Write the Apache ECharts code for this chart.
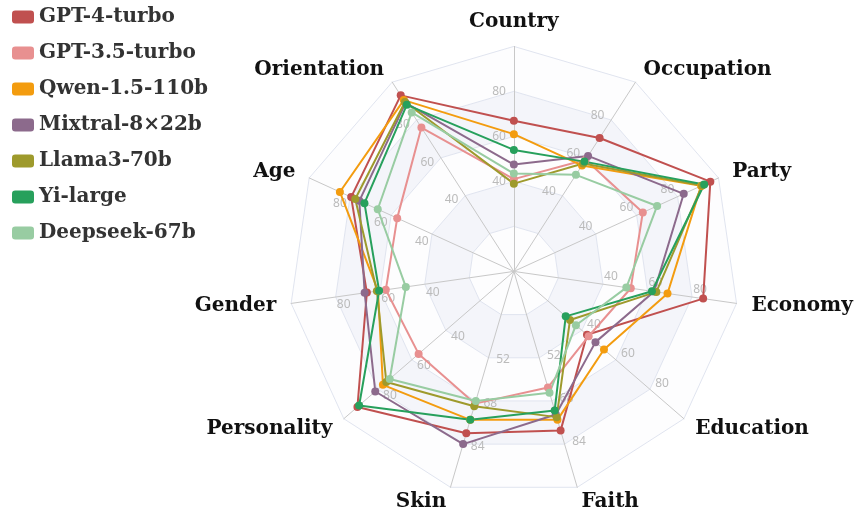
<!DOCTYPE html>
<html>
<head>
<meta charset="utf-8">
<script src="https://cdn.jsdelivr.net/npm/echarts@6/dist/echarts.min.js"></script>
<style>
  html, body { margin: 0; padding: 0; background: #fff; }
  #radar { width: 855px; height: 515px; }
</style>
</head>
<body>
<div id="radar"></div>
<script>
// axes, clockwise from the top
var categories = ['Country', 'Occupation', 'Party', 'Economy', 'Education', 'Faith', 'Skin', 'Personality', 'Gender', 'Age', 'Orientation'];
var axisMin = [0, 0, 0, 0, 0, 20, 20, 0, 0, 0, 0];
var axisMax = [100, 100, 100, 100, 100, 100, 100, 100, 100, 100, 100];
var tickLabels = [40, 60, 80, 52, 68, 84]; // only these rings carry a label

var models = ['GPT-4-turbo', 'GPT-3.5-turbo', 'Qwen-1.5-110b', 'Mixtral-8×22b', 'Llama3-70b', 'Yi-large', 'Deepseek-67b'];
var gpt4 = [67, 70.5, 96, 85, 43, 79, 80, 92, 66, 79.5, 93];
var gpt35 = [41, 59, 63, 52.5, 44, 63, 69, 56, 57.5, 57, 76];
var qwen = [61, 56, 91.5, 69, 53, 75, 75, 77, 61, 85, 90.5];
var mixtral = [47.5, 61, 83, 63, 48, 73, 84, 81.5, 67, 75.5, 89];
var llama = [39, 57, 92, 64, 33, 74, 70, 75, 61.5, 77.5, 89.5];
var yi = [54, 58, 93, 62, 30.5, 71.5, 75, 91, 60.5, 73, 88];
var deepseek = [43.5, 51, 70, 50.5, 36.5, 65, 68, 73, 48.5, 66.5, 84];
var colors = ['#c0504f', '#e89090', '#f39c0f', '#8c6a8c', '#9e9a2c', '#27a05c', '#98cca2'];

// echarts lays indicators out counter-clockwise, so flip everything after the first one
function cw(arr) {
    return [arr[0]].concat(arr.slice(1).reverse());
}

var chart = echarts.init(document.getElementById('radar'));
var allValues = [gpt4, gpt35, qwen, mixtral, llama, yi, deepseek];

var option = {
    color: colors,
    legend: {
        orient: 'vertical',
        left: 7,
        top: 2,
        icon: 'roundRect',
        itemWidth: 22,
        itemHeight: 13,
        itemGap: 16,
        textStyle: {
            fontFamily: 'DejaVu Serif',
            fontWeight: 'bold',
            fontSize: 20,
            color: '#333'
        },
        data: models
    },
    radar: {
        center: ['60.1%', '52.7%'],
        radius: 225,
        startAngle: 90,
        splitNumber: 5,
        shape: 'polygon',
        indicator: cw(categories).map(function (name, i) {
            return { name: name, min: cw(axisMin)[i], max: cw(axisMax)[i] };
        }),
        axisName: {
            color: '#111',
            fontFamily: 'DejaVu Serif',
            fontWeight: 'bold',
            fontSize: 20
        },
        nameGap: 15,
        axisLine: {
            lineStyle: { color: '#c8c8c8', width: 1 }
        },
        splitLine: {
            lineStyle: { color: '#e0e4ef', width: 1 }
        },
        splitArea: {
            areaStyle: {
                color: ['#fdfdfe', '#f4f5fa']
            }
        },
        axisLabel: {
            show: true,
            color: '#bbb',
            fontSize: 12,
            fontFamily: 'Noto Sans',
            formatter: function (v) {
                return tickLabels.indexOf(v) >= 0 ? String(v) : '';
            }
        }
    },
    series: [{
        type: 'radar',
        symbol: 'circle',
        symbolSize: 8,
        lineStyle: { width: 2 },
        data: allValues.map(function (vals, i) {
            return { name: models[i], value: cw(vals) };
        })
    }]
};
chart.setOption(option);
</script>
</body>
</html>
